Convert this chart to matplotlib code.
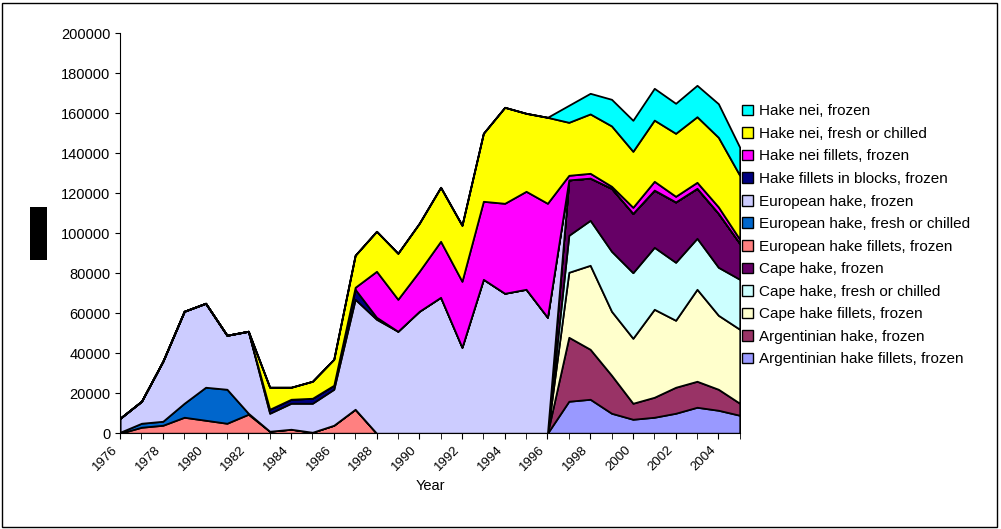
import matplotlib.pyplot as plt
import matplotlib.patches as mpatches
import numpy as np

plt.rcParams['font.family'] = ['Liberation Sans', 'DejaVu Sans']

years = list(range(1976, 2006))
z21 = [0] * 21
z9 = [0] * 9

arg_fillets = z21 + [16000, 17000, 10000, 7000, 8000, 10000, 13000, 11500, 9000]
arg_frozen = z21 + [32000, 25000, 19000, 8000, 10000, 13000, 13000, 10500, 6000]
cape_fillets = z21 + [32500, 42000, 32000, 32500, 44000, 33500, 46000, 37000, 37000]
cape_fresh = z21 + [18500, 22500, 30000, 32800, 31000, 29000, 25500, 24000, 25000]
cape_frozen = z21 + [27700, 21100, 31500, 29700, 28600, 30200, 25000, 27000, 18000]
euro_fillets = [0, 3000, 4000, 8000, 6500, 5000, 9500, 1000, 2000, 500, 4000, 12000] + [0] * 9 + z9
euro_fresh = [500, 2000, 2000, 7000, 16500, 17000, 500] + [0] * 14 + z9
euro_frozen = [7000, 11000, 30000, 46000, 42000, 27000, 41000, 9000, 13000, 14500, 18000,
               55000, 57000, 51000, 61000, 68000, 43000, 77000, 70000, 72000, 58000] + z9
blocks = [0] * 7 + [2000, 2000, 2500, 2000, 5000, 1000] + [0] * 8 + z9
nei_fillets = [0] * 11 + [1000, 23000, 16000, 20000, 28000, 33000, 39000, 45000, 49000, 57000] + \
              [2300, 2400, 1000, 3000, 4400, 2800, 3000, 3200, 2000]
nei_fresh = [0] * 7 + [11000, 6000, 8500, 13000, 16000, 20000, 23000, 24000, 27000, 28000,
                       34000, 48000, 39000, 43000] + \
            [26500, 29700, 30200, 28000, 30600, 31500, 32800, 34800, 32000]
nei_frozen = z21 + [8500, 10300, 13300, 15500, 15900, 15000, 15700, 16800, 14000]

series = [arg_fillets, arg_frozen, cape_fillets, cape_fresh, cape_frozen, euro_fillets,
          euro_fresh, euro_frozen, blocks, nei_fillets, nei_fresh, nei_frozen]
labels = ['Argentinian hake fillets, frozen', 'Argentinian hake, frozen', 'Cape hake fillets, frozen',
          'Cape hake, fresh or chilled', 'Cape hake, frozen', 'European hake fillets, frozen',
          'European hake, fresh or chilled', 'European hake, frozen', 'Hake fillets in blocks, frozen',
          'Hake nei fillets, frozen', 'Hake nei, fresh or chilled', 'Hake nei, frozen']
colors = ['#9999FF', '#993366', '#FFFFCC', '#CCFFFF', '#660066', '#FF8080',
          '#0066CC', '#CCCCFF', '#000080', '#FF00FF', '#FFFF00', '#00FFFF']

fig = plt.figure(figsize=(10.01, 5.29), dpi=100)
ax = fig.add_axes([0.12, 0.181, 0.619, 0.756])
x = np.arange(len(years))
ax.stackplot(x, *series, colors=colors, edgecolor='black', linewidth=1.3)

ax.set_xlim(0, len(years) - 1)
ax.set_ylim(0, 200000)
ax.set_yticks(range(0, 200001, 20000))
ax.set_xticks(x, minor=True)
ax.set_xticks(x[::2])
ax.set_xticklabels([str(y) for y in years[::2]], rotation=45, ha='right', fontsize=9.5)
ax.tick_params(axis='y', labelsize=10.5)
ax.tick_params(axis='x', which='both', length=4)
ax.spines['top'].set_visible(False)
ax.spines['right'].set_visible(False)
ax.set_xlabel('Year', fontsize=10.5)

handles = [mpatches.Patch(facecolor=c, edgecolor='black', label=l) for c, l in zip(colors, labels)]
fig.legend(handles=handles[::-1], loc='center left', bbox_to_anchor=(0.728, 0.555), frameon=False,
           fontsize=11, handlelength=0.7, handleheight=0.7, labelspacing=0.56, handletextpad=0.4)

fig.patches.append(mpatches.Rectangle((0.030, 0.508), 0.017, 0.1, transform=fig.transFigure,
                                      facecolor='black'))
fig.patches.append(mpatches.Rectangle((0.002, 0.004), 0.994, 0.99, transform=fig.transFigure,
                                      fill=False, edgecolor='black', linewidth=1))
fig.savefig('out.png', dpi=100)
